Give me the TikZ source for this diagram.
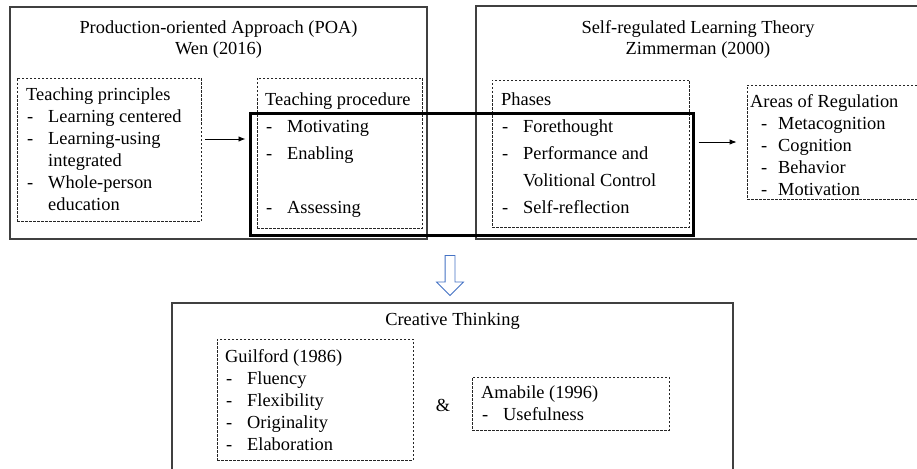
\documentclass[tikz,border=0pt]{standalone}
\usepackage{fontspec}
\setmainfont{Liberation Serif}
\usetikzlibrary{fit,shapes.arrows,arrows.meta}
\definecolor{arrowblue}{HTML}{4472C4}
\newcommand\itm[2][22pt]{\makebox[#1][l]{\hspace{1pt}-}#2}
\newcommand\itmc[1]{\hspace*{22pt}#1}

\begin{document}
\begin{tikzpicture}[x=1pt,y=-1pt,
	frame/.style={draw=black!75, line width=1.1pt, inner sep=0pt},
	dbox/.style={draw=black!85, dash pattern=on 2.5pt off 1.5pt, line width=0.8pt, inner sep=0pt},
	corebox/.style={draw=black, line width=3pt, inner sep=0pt},
	txt/.style={inner sep=0pt, align=left, anchor=base west, font=\fontsize{18.4}{22}\selectfont},
	ttl/.style={inner sep=0pt, align=center, anchor=base, font=\fontsize{18.4}{21}\selectfont},
	arr/.style={-{Latex[length=7pt,width=5.5pt]}, line width=0.9pt}]
	\useasboundingbox (0,0) rectangle (917,468);
	% 外框
	\node[frame, fit={(10,7) (427,239)}] (poa) {};
	\node[frame, fit={(476,6) (935,239)}] (srl) {};
	\node[frame, fit={(172,303) (733,480)}] (ct) {};
	% 标题 (base = 最后一行)
	\node[ttl] (poaTtl) at ([yshift=-48pt]poa.north) {Production-oriented Approach (POA)\\Wen (2016)};
	\node[ttl] (srlTtl) at (698,55) {Self-regulated Learning Theory\\Zimmerman (2000)};
	\node[ttl] (ctTtl) at ([yshift=-23pt]ct.north) {Creative Thinking};
	% 虚线框
	\node[dbox, fit={(17,78) (201,221)}] (prin) {};
	\node[dbox, fit={(257,78) (422,228)}] (proc) {};
	\node[dbox, fit={(492,80) (689,227)}] (phase) {};
	\node[dbox, fit={(747,85) (935,199)}] (area) {};
	\node[dbox, fit={(217,339) (413,460)}] (guil) {};
	\node[dbox, fit={(472,377) (669,430)}] (ama) {};
	% 文字
	\node[txt] (prinTxt) at (26,210) {Teaching principles\\\itm{Learning centered}\\\itm{Learning-using}\\\itmc{integrated}\\\itm{Whole-person}\\\itmc{education}};
	\node[txt, font=\fontsize{18.4}{27}\selectfont] (procTxt) at (265,213) {Teaching procedure\\\itm{Motivating}\\\itm{Enabling}\\[27pt]\itm{Assessing}};
	\node[txt, font=\fontsize{18.4}{27}\selectfont] (phaseTxt) at (501,213) {Phases\\\itm{Forethought}\\\itm{Performance and}\\\itmc{Volitional Control}\\\itm{Self-reflection}};
	\node[txt] (areaTxt) at (750,195) {Areas of Regulation\\\hspace*{10pt}\itm[18pt]{Metacognition}\\\hspace*{10pt}\itm[18pt]{Cognition}\\\hspace*{10pt}\itm[18pt]{Behavior}\\\hspace*{10pt}\itm[18pt]{Motivation}};
	\node[txt] (guilTxt) at (225,450) {Guilford (1986)\\\itm{Fluency}\\\itm{Flexibility}\\\itm{Originality}\\\itm{Elaboration}};
	\node[txt] (amaTxt) at (481,420) {Amabile (1996)\\\itm{Usefulness}};
	\node[inner sep=0pt, font=\fontsize{18.4}{22}\selectfont] (amp) at (443,405) {\&};
	% 粗框
	\node[corebox, fit={(250,114) (693,235)}] (core) {};
	% 箭头
	\coordinate (a1) at ([yshift=10.5pt]prin.east);
	\draw[arr, shorten <=4pt, shorten >=3pt] (a1) -- (a1 -| core.west);
	\coordinate (a2) at ([yshift=32.5pt]core.east);
	\draw[arr, shorten <=4pt, shorten >=10pt] (a2) -- (a2 -| area.west);
	\node[single arrow, draw=arrowblue, fill=white, line width=0.8pt, shape border rotate=270,
		minimum height=40pt, minimum width=26pt, single arrow head extend=8.5pt,
		inner sep=0pt, inner xsep=4.5pt] (down) at (450,273) {};
\end{tikzpicture}
\end{document}
